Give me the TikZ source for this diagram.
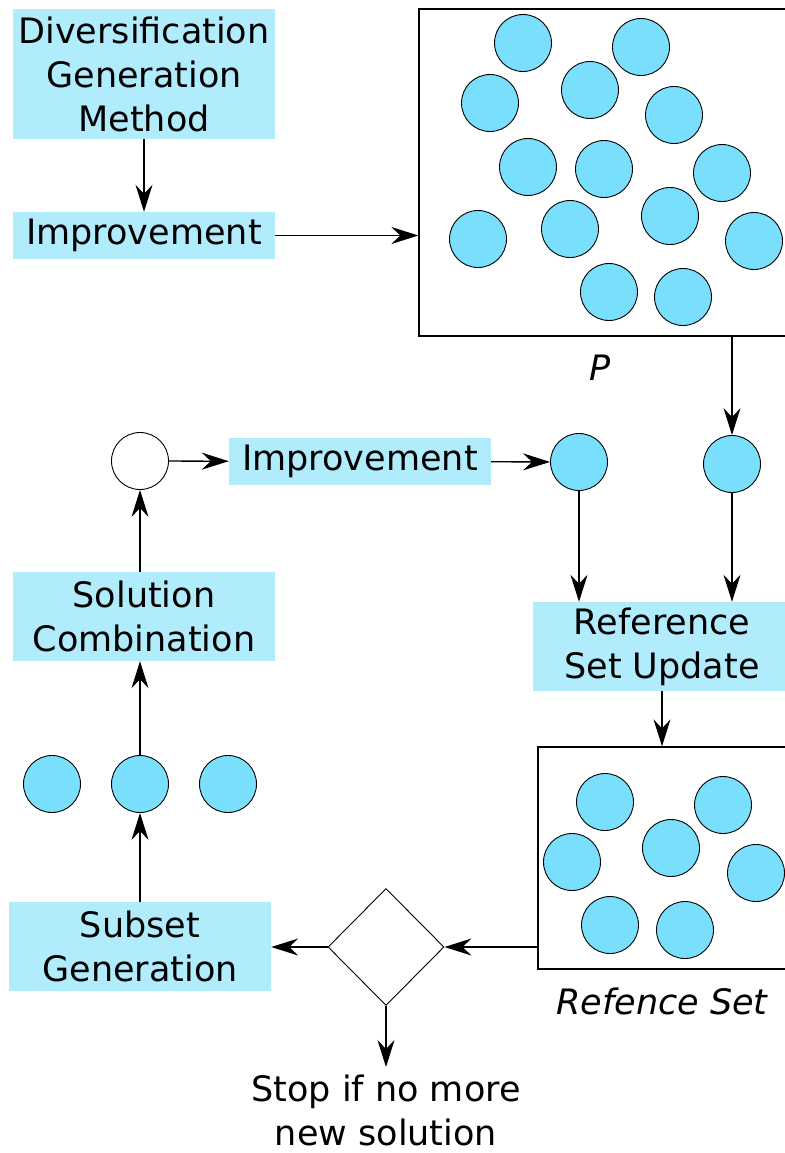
\documentclass[tikz,border=0pt]{standalone}
\usepackage{fontspec}
\setmainfont{DejaVu Sans}
\usetikzlibrary{arrows.meta,shapes.geometric}
\definecolor{boxc}{RGB}{176,236,252}
\definecolor{dotc}{RGB}{121,223,252}
\begin{document}
\begin{tikzpicture}[x=1pt,y=-1pt,
 box/.style={fill=boxc, inner sep=0pt, align=center, font=\fontsize{35}{44}\selectfont},
 dot/.style={circle, draw, fill=dotc, minimum size=57pt, inner sep=0pt, line width=0.9pt},
 wdot/.style={circle, draw, fill=white, minimum size=57pt, inner sep=0pt, line width=0.9pt},
 arr/.style={-{Stealth[length=27pt,width=17pt,inset=9pt]}, line width=1.3pt},
 frame/.style={draw, line width=1.3pt, inner sep=0pt},
 lbl/.style={font=\fontsize{35}{44}\selectfont, align=center, inner sep=0pt},
 ilbl/.style={font=\fontsize{35}{44}\selectfont\itshape, inner sep=0pt}]
\useasboundingbox (0,0) rectangle (784,1153);

% top left boxes
\node[box, minimum width=262pt, minimum height=130pt] (dgm) at (144,74) {Diversification\\Generation\\Method};
\node[box, minimum width=262pt, minimum height=47pt] (imp1) at (144,235.5) {Improvement};

% population box P
\node[frame, minimum width=369pt, minimum height=327pt] (pbox) at (603.5,172.5) {};
\node[ilbl] (plbl) at (600,368) {P};
\node[dot] (p1) at (523,43) {};
\node[dot] (p2) at (641,47) {};
\node[dot] (p3) at (490,103) {};
\node[dot] (p4) at (590,90) {};
\node[dot] (p5) at (674,115) {};
\node[dot] (p6) at (528,167) {};
\node[dot] (p7) at (604,169) {};
\node[dot] (p8) at (722,173) {};
\node[dot] (p9) at (478,239) {};
\node[dot] (p10) at (570,229) {};
\node[dot] (p11) at (670,216) {};
\node[dot] (p12) at (754,241) {};
\node[dot] (p13) at (609,292) {};
\node[dot] (p14) at (683,297) {};

% middle row
\node[wdot] (w) at (140,461) {};
\node[box, minimum width=262pt, minimum height=47pt] (imp2) at (360,461.5) {Improvement};
\node[dot] (c1) at (579,462) {};
\node[dot] (c2) at (732,464) {};

\node[box, minimum width=258pt, minimum height=89pt] (rsu) at (662,646.5) {Reference\\Set Update};
\node[box, minimum width=262pt, minimum height=89pt] (sc) at (144,616.5) {Solution\\Combination};

% subset circles
\node[dot] (r1) at (52,784) {};
\node[dot] (r2) at (140,784) {};
\node[dot] (r3) at (228,784) {};

\node[box, minimum width=262pt, minimum height=89pt] (sg) at (140,946.5) {Subset\\Generation};

% diamond
\node[diamond, draw, line width=0.9pt, minimum width=116pt, minimum height=117pt, inner sep=0pt] (dia) at (386,947) {};

% reference set box
\node[frame, minimum width=250pt, minimum height=222pt] (rbox) at (663,858) {};
\node[ilbl] (rlbl) at (662,1001) {Refence Set};
\node[dot] (s1) at (605,802) {};
\node[dot] (s2) at (723,805) {};
\node[dot] (s3) at (572,862) {};
\node[dot] (s4) at (671,848) {};
\node[dot] (s5) at (756,873) {};
\node[dot] (s6) at (610,925) {};
\node[dot] (s7) at (685,930) {};

\node[lbl] (stop) at (386,1110) {Stop if no more\\new solution};
\coordinate (stopend) at (386,1067);

% connectors
\draw[arr] (dgm) -- (imp1);
\draw[arr] (imp1.east) -- (imp1.east -| pbox.west);
\draw[arr] (c2 |- pbox.south) -- (c2);
\draw[arr] (w) -- (imp2);
\draw[arr] (imp2) -- (c1);
\draw[arr] (c1) -- (c1 |- rsu.north);
\draw[arr] (c2) -- (c2 |- rsu.north);
\draw[arr] (rsu.south) -- (rsu.south |- rbox.north);
\draw[arr] (rbox.west |- dia) -- (dia.east);
\draw[arr] (dia.west) -- (dia.west -| sg.east);
\draw[arr] (dia.south) -- (stopend);
\draw[arr] (sg) -- (r2);
\draw[arr] (r2) -- (sc.south -| r2);
\draw[arr] (sc.north -| w) -- (w);
\end{tikzpicture}
\end{document}
